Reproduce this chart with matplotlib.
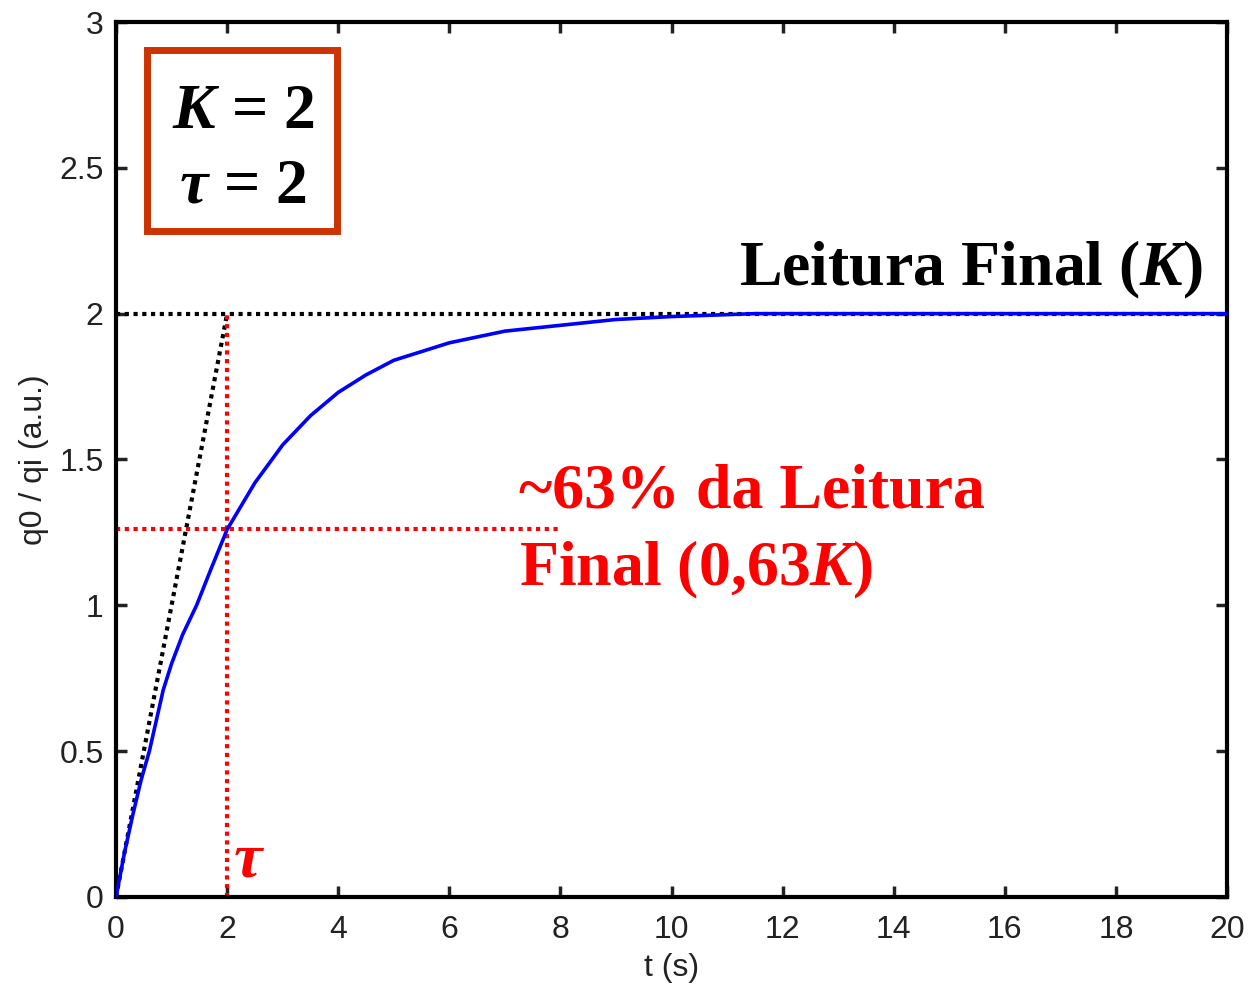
#First order system step response
#Import the libraries
import numpy as np
import matplotlib
matplotlib.use('Agg')
import matplotlib.pyplot as plt
from matplotlib.patches import Rectangle

#Data
t = [0, 0.15, 0.3, 0.45, 0.6, 0.85, 1.0, 1.2, 1.45, 1.7, 2.0, 2.5, 3.0, 3.5, 4.0, 4.5,
     5.0, 5.5, 6.0, 7.0, 8.0, 9.0, 10.0, 11.5, 14.0, 20.0]
q = [0, 0.15, 0.28, 0.40, 0.50, 0.71, 0.80, 0.90, 1.00, 1.12, 1.26, 1.42, 1.55, 1.65, 1.73, 1.79,
     1.84, 1.87, 1.90, 1.94, 1.96, 1.98, 1.99, 2.00, 2.00, 2.00]
K = 2
tau = 2
q_tau = 1.26
x_ticks = [0, 2, 4, 6, 8, 10, 12, 14, 16, 18, 20]
y_ticks = [0, 0.5, 1, 1.5, 2, 2.5, 3]
y_tick_labels = ['0', '0.5', '1', '1.5', '2', '2.5', '3']

plt.rcParams['mathtext.fontset'] = 'custom'
plt.rcParams['mathtext.rm'] = 'Liberation Serif:bold'
plt.rcParams['mathtext.it'] = 'Liberation Serif:bold:italic'
plt.rcParams['mathtext.bf'] = 'Liberation Serif:bold'

fig = plt.figure(figsize=(12.49, 9.91), dpi=100)
ax = fig.add_axes([0.0929, 0.0949, 0.8895, 0.8829])

dots = (0, (1, 1.1))
#guides
ax.plot([0, 20], [K, K], color='black', lw=3, ls=dots, zorder=2)
ax.plot([0, tau], [0, K], color='black', lw=3, ls=dots, zorder=2)
ax.plot([tau, tau], [0, K], color='red', lw=3, ls=dots, zorder=2)
ax.plot([0, 8], [q_tau, q_tau], color='red', lw=3, ls=dots, zorder=2)
#response
ax.plot(t, q, color='blue', lw=2.6, zorder=3)

ax.set_xlim(0, 20)
ax.set_ylim(0, 3)
ax.set_xticks(x_ticks)
ax.set_yticks(y_ticks)
ax.set_yticklabels(y_tick_labels)
ax.tick_params(direction='in', length=8, width=2.5, top=True, right=True,
               labelsize=23, colors='#222222')
ax.tick_params(axis='x', pad=13)
ax.tick_params(axis='y', pad=9)
for lab in ax.get_xticklabels() + ax.get_yticklabels():
    lab.set_fontfamily('Liberation Sans')
for s in ax.spines.values():
    s.set_linewidth(3)
ax.set_xlabel('t (s)', fontsize=23, family='Liberation Sans', labelpad=6, color='#222222')
ax.set_ylabel('q0 / qi (a.u.)', fontsize=23, family='Liberation Sans', labelpad=7, color='#222222')

#box with parameters
fig.patches.append(Rectangle((0.1175, 0.7665), 0.1525, 0.1830, transform=fig.transFigure,
                             fill=False, edgecolor='#cc3300', lw=5, zorder=5))
fig.text(0.1945, 0.8707, r'$K$ = 2', fontsize=46, family='Liberation Serif', weight='bold',
         ha='center', va='baseline')
fig.text(0.1945, 0.7953, r'$\tau$ = 2', fontsize=46, family='Liberation Serif', weight='bold',
         ha='center', va='baseline')

#annotations
fig.text(0.9632, 0.7124, r'Leitura Final ($K$)', fontsize=46, family='Liberation Serif',
         weight='bold', ha='right', va='baseline', color='black')
fig.text(0.4155, 0.4874, '~63% da Leitura', fontsize=46, family='Liberation Serif',
         weight='bold', ha='left', va='baseline', color='red')
fig.text(0.4155, 0.4097, r'Final (0,63$K$)', fontsize=46, family='Liberation Serif',
         weight='bold', ha='left', va='baseline', color='red')
fig.text(0.1866, 0.116, r'$\tau$', fontsize=46, ha='left', va='baseline', color='red')

plt.savefig('out.png', dpi=100)
